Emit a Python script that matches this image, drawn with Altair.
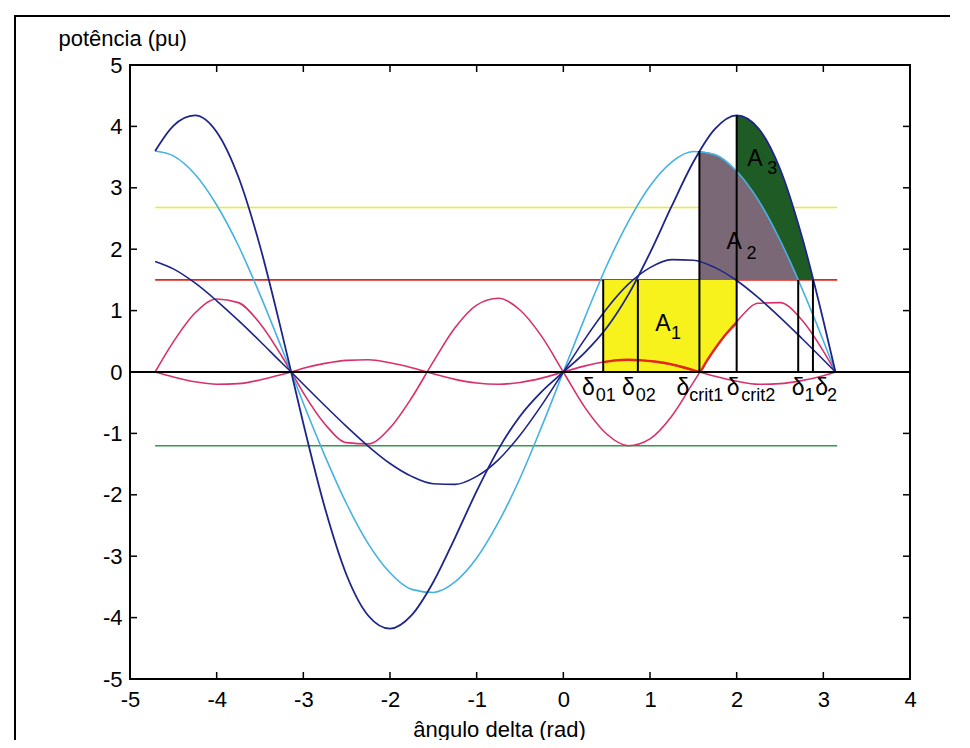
import altair as alt
import pandas as pd

# ---------------- data ----------------
X = [-4.71, -4.5, -4.25, -4.0, -3.75, -3.5, -3.25, -3.14, -3.0, -2.75, -2.5, -2.25,
     -2.0, -1.75, -1.5, -1.25, -1.0, -0.75, -0.5, -0.25, 0.0, 0.25, 0.5, 0.75,
     1.0, 1.25, 1.5, 1.75, 2.0, 2.25, 2.5, 2.75, 3.0, 3.14]

CYAN = [3.60, 3.52, 3.22, 2.72, 2.06, 1.26, 0.39, 0.0, -0.51, -1.37, -2.15, -2.80,
        -3.27, -3.54, -3.59, -3.42, -3.03, -2.45, -1.73, -0.89, 0.0, 0.89, 1.73, 2.45,
        3.03, 3.42, 3.59, 3.54, 3.27, 2.80, 2.15, 1.37, 0.51, 0.0]

BLUE_BIG = [3.60, 4.01, 4.18, 3.91, 3.18, 2.05, 0.65, 0.0, -0.84, -2.22, -3.31, -3.97,
            -4.18, -3.96, -3.42, -2.70, -1.94, -1.26, -0.72, -0.32, 0.0, 0.32, 0.72, 1.26,
            1.94, 2.70, 3.42, 3.96, 4.18, 3.97, 3.31, 2.22, 0.84, 0.0]

BLUE_SMALL = [1.80, 1.68, 1.45, 1.16, 0.84, 0.50, 0.15, 0.0, -0.20, -0.55, -0.89, -1.21,
              -1.49, -1.70, -1.82, -1.83, -1.70, -1.43, -1.03, -0.54, 0.0, 0.54, 1.03, 1.43,
              1.70, 1.83, 1.82, 1.70, 1.49, 1.21, 0.89, 0.55, 0.20, 0.0]

MAG_BIG = [0.0, 0.49, 0.96, 1.19, 1.13, 0.79, 0.26, 0.0, -0.34, -0.85, -1.15, -1.17,
           -0.91, -0.42, 0.17, 0.72, 1.09, 1.20, 1.01, 0.58, 0.0, -0.58, -1.01, -1.20,
           -1.09, -0.72, -0.17, 0.38, 0.82, 1.12, 1.13, 0.85, 0.34, 0.0]

MAG_SMALL = [0.0, -0.08, -0.16, -0.20, -0.19, -0.13, -0.04, 0.0, 0.06, 0.14, 0.19, 0.20,
             0.15, 0.07, -0.03, -0.12, -0.18, -0.20, -0.17, -0.10, 0.0, 0.10, 0.17, 0.20,
             0.18, 0.12, 0.03, -0.07, -0.15, -0.20, -0.19, -0.14, -0.06, 0.0]

# highlighted (fault) curve segment
HX = [0.46, 0.6, 0.75, 0.9, 1.05, 1.2, 1.35, 1.5, 1.57, 1.65, 1.75, 1.85, 1.93, 2.0]
HY = [0.16, 0.19, 0.20, 0.19, 0.17, 0.14, 0.09, 0.03, 0.0, 0.17, 0.38, 0.57, 0.70, 0.80]

# horizontal levels
H_NAMES = ["yellow", "red", "green"]
H_LEVEL = [2.68, 1.5, -1.2]
H_XRANGE = [-4.71, 3.16]
ZERO_XRANGE = [-5, 4]

# area A1 (yellow)
A1_X = [0.46, 1.57, 1.65, 1.75, 1.85, 1.93, 2.0]
A1_LO = [0.0, 0.0, 0.17, 0.38, 0.57, 0.70, 0.80]
A1_HI = [1.5, 1.5, 1.5, 1.5, 1.5, 1.5, 1.5]

# area A2 (grey)
A2_X = [1.57, 1.7, 1.8, 1.9, 2.0, 2.1, 2.2, 2.3, 2.4, 2.5, 2.6, 2.71]
A2_LO = [1.5] * 12
A2_HI = [3.60, 3.57, 3.51, 3.41, 3.27, 3.11, 2.91, 2.68, 2.43, 2.15, 1.86, 1.50]

# area A3 (dark green)
A3_X = [2.0, 2.1, 2.2, 2.3, 2.4, 2.5, 2.6, 2.71, 2.8, 2.88]
A3_LO = [3.27, 3.11, 2.91, 2.68, 2.43, 2.15, 1.86, 1.50, 1.50, 1.50]
A3_HI = [4.18, 4.15, 4.05, 3.88, 3.63, 3.31, 2.92, 2.42, 1.96, 1.53]

# vertical delta lines
DELTA_X = [0.46, 0.86, 1.57, 2.0, 2.71, 2.88]
DELTA_TOP = [1.5, 1.5, 3.6, 4.18, 1.5, 1.5]

# labels
DLAB_X = [0.29, 0.75, 1.38, 1.96, 2.71, 2.98]
DLAB_Y = [-0.37] * 6
DSUB_TEXT = ["01", "02", "crit1", "crit2", "1", "2"]
DSUB_X = [0.49, 0.95, 1.65, 2.25, 2.84, 3.10]
DSUB_Y = [-0.48] * 6

ALAB_X = [1.15, 1.97, 2.21]
ALAB_Y = [0.67, 2.01, 3.35]
ASUB_TEXT = ["1", "2", "3"]
ASUB_X = [1.30, 2.17, 2.41]
ASUB_Y = [0.54, 1.84, 3.22]

XT = [-5, -4, -3, -2, -1, 0, 1, 2, 3, 4]
YT = [-5, -4, -3, -2, -1, 0, 1, 2, 3, 4, 5]

# ---------------- styling ----------------
FONT = "Liberation Sans"
C_CYAN = "#46b2e4"
C_NAVY = "#1e2588"
C_MAG = "#d8306c"
C_RED = "#e6261c"
C_YEL_LINE = "#ecec2a"
C_YEL_FILL = "#f8f21c"
C_GREEN_LINE = "#2f9a48"
C_GREY = "#7b6877"
C_DKGREEN = "#1f5c25"

W, H = 780, 614

XS = alt.Scale(domain=[-5, 4], nice=False, zero=False)
YS = alt.Scale(domain=[-5, 5], nice=False, zero=False)
AX = alt.Axis(values=XT, title="ângulo delta (rad)", grid=False, ticks=False, domain=False,
              labelPadding=10, labelFlush=False, labelExpr="'' + datum.value",
              titleX=369, titleY=57, titleAlign="center", titleBaseline="alphabetic")
AY = alt.Axis(values=YT, title="potência (pu)", grid=False, ticks=False, domain=False,
              labelPadding=8, labelExpr="'' + datum.value",
              titleAngle=0, titleAlign="left", titleBaseline="alphabetic",
              titleX=-72, titleY=-20)


def xenc(field):
    return alt.X(field, type="quantitative", scale=XS, axis=AX)


def yenc(field):
    return alt.Y(field, type="quantitative", scale=YS, axis=AY)


def line_layer(xs, ys, color, width, interp="monotone"):
    df = pd.DataFrame({"x": xs, "y": ys})
    return alt.Chart(df).mark_line(color=color, strokeWidth=width, interpolate=interp).encode(
        x=xenc("x"), y=yenc("y"))


def area_layer(xs, lo, hi, color):
    df = pd.DataFrame({"x": xs, "lo": lo, "hi": hi})
    return alt.Chart(df).mark_area(color=color, opacity=1, interpolate="linear").encode(
        x=xenc("x"), y=yenc("lo"), y2=alt.Y2("hi"))


def text_layer(xs, ys, texts, size):
    df = pd.DataFrame({"x": xs, "y": ys, "t": texts})
    return alt.Chart(df).mark_text(font=FONT, fontSize=size, align="center",
                                   baseline="alphabetic", color="black").encode(
        x=xenc("x"), y=yenc("y"), text="t:N")


layers = []

# outer figure frame (decoration)
frame_df = pd.DataFrame({"k": [0]})
layers.append(alt.Chart(frame_df).mark_rect(filled=False, stroke="black", strokeWidth=2).encode(
    x=alt.value(-115), x2=alt.value(W + 150), y=alt.value(-49), y2=alt.value(H + 120)))

# horizontal level lines
h_colors = [C_YEL_LINE, C_RED, C_GREEN_LINE]
for lvl, col in zip(H_LEVEL, h_colors):
    layers.append(line_layer(H_XRANGE, [lvl, lvl], col, 1.6, "linear"))

# filled areas
layers.append(area_layer(A1_X, A1_LO, A1_HI, C_YEL_FILL))
layers.append(area_layer(A2_X, A2_LO, A2_HI, C_GREY))
layers.append(area_layer(A3_X, A3_LO, A3_HI, C_DKGREEN))

# curves
layers.append(line_layer(X, MAG_SMALL, C_MAG, 1.6))
layers.append(line_layer(X, MAG_BIG, C_MAG, 1.6))
layers.append(line_layer(X, CYAN, C_CYAN, 1.6))
layers.append(line_layer(X, BLUE_SMALL, C_NAVY, 1.6))
layers.append(line_layer(X, BLUE_BIG, C_NAVY, 1.8))
layers.append(line_layer(HX, HY, C_RED, 2.4))

# zero line
layers.append(line_layer(ZERO_XRANGE, [0, 0], "black", 2, "linear"))

# vertical delta lines
vdf = pd.DataFrame({"x": DELTA_X, "y0": [0.0] * len(DELTA_X), "y1": DELTA_TOP})
layers.append(alt.Chart(vdf).mark_rule(color="black", strokeWidth=2).encode(
    x=xenc("x"), y=yenc("y0"), y2=alt.Y2("y1")))

# labels
layers.append(text_layer(DLAB_X, DLAB_Y, ["δ"] * 6, 23))
layers.append(text_layer(DSUB_X, DSUB_Y, DSUB_TEXT, 18))
layers.append(text_layer(ALAB_X, ALAB_Y, ["A"] * 3, 23))
layers.append(text_layer(ASUB_X, ASUB_Y, ASUB_TEXT, 18))

# inward ticks on all four sides
xtdf = pd.DataFrame({"x": XT})
ytdf = pd.DataFrame({"y": YT})
layers.append(alt.Chart(xtdf).mark_rule(color="black", strokeWidth=1.5).encode(
    x=xenc("x"), y=alt.value(H), y2=alt.value(H - 7)))
layers.append(alt.Chart(xtdf).mark_rule(color="black", strokeWidth=1.5).encode(
    x=xenc("x"), y=alt.value(0), y2=alt.value(7)))
layers.append(alt.Chart(ytdf).mark_rule(color="black", strokeWidth=1.5).encode(
    y=yenc("y"), x=alt.value(0), x2=alt.value(7)))
layers.append(alt.Chart(ytdf).mark_rule(color="black", strokeWidth=1.5).encode(
    y=yenc("y"), x=alt.value(W), x2=alt.value(W - 7)))

chart = alt.layer(*layers).properties(
    width=W, height=H,
    autosize=alt.AutoSizeParams(type="none"),
    padding={"left": 122, "top": 57, "right": 40, "bottom": 61},
    background="white",
).configure_view(
    stroke="black", strokeWidth=2
).configure_axis(
    labelFont=FONT, labelFontSize=22, labelColor="black",
    titleFont=FONT, titleFontSize=22, titleFontWeight="normal", titleColor="black",
)

chart.save("out.html", embed_options={"renderer": "svg", "actions": False})
